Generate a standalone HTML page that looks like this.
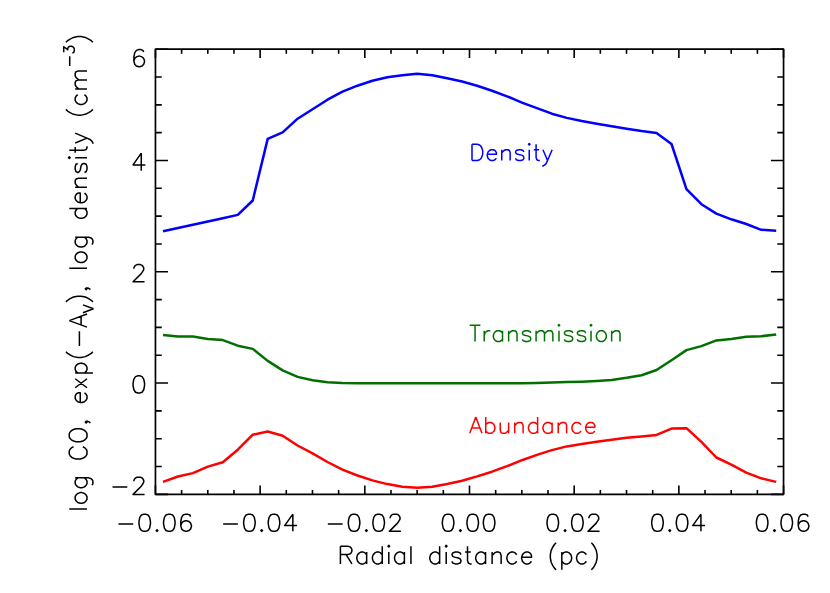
<!DOCTYPE html>
<html><head><meta charset="utf-8"><title>plot</title>
<style>html,body{margin:0;padding:0;background:#fff;font-family:"Liberation Sans",sans-serif;}svg{display:block}</style>
</head><body>
<svg width="830" height="593" viewBox="0 0 830 593">
<rect x="0" y="0" width="830" height="593" fill="#fff"/>
<rect x="155.45" y="49.2" width="628.1" height="445.15" fill="none" stroke="#000" stroke-width="1.7" stroke-linejoin="round"/>
<path d="M155.45 494.35 v-8.9 M155.45 49.2 v8.9 M181.62 494.35 v-4.45 M181.62 49.2 v4.45 M207.79 494.35 v-4.45 M207.79 49.2 v4.45 M233.96 494.35 v-4.45 M233.96 49.2 v4.45 M260.13 494.35 v-8.9 M260.13 49.2 v8.9 M286.3 494.35 v-4.45 M286.3 49.2 v4.45 M312.47 494.35 v-4.45 M312.47 49.2 v4.45 M338.65 494.35 v-4.45 M338.65 49.2 v4.45 M364.82 494.35 v-8.9 M364.82 49.2 v8.9 M390.99 494.35 v-4.45 M390.99 49.2 v4.45 M417.16 494.35 v-4.45 M417.16 49.2 v4.45 M443.33 494.35 v-4.45 M443.33 49.2 v4.45 M469.5 494.35 v-8.9 M469.5 49.2 v8.9 M495.67 494.35 v-4.45 M495.67 49.2 v4.45 M521.84 494.35 v-4.45 M521.84 49.2 v4.45 M548.01 494.35 v-4.45 M548.01 49.2 v4.45 M574.18 494.35 v-8.9 M574.18 49.2 v8.9 M600.35 494.35 v-4.45 M600.35 49.2 v4.45 M626.52 494.35 v-4.45 M626.52 49.2 v4.45 M652.7 494.35 v-4.45 M652.7 49.2 v4.45 M678.87 494.35 v-8.9 M678.87 49.2 v8.9 M705.04 494.35 v-4.45 M705.04 49.2 v4.45 M731.21 494.35 v-4.45 M731.21 49.2 v4.45 M757.38 494.35 v-4.45 M757.38 49.2 v4.45 M783.55 494.35 v-8.9 M783.55 49.2 v8.9 M155.45 49.2 h12.6 M783.55 49.2 h-12.6 M155.45 77.02 h6.3 M783.55 77.02 h-6.3 M155.45 104.84 h6.3 M783.55 104.84 h-6.3 M155.45 132.67 h6.3 M783.55 132.67 h-6.3 M155.45 160.49 h12.6 M783.55 160.49 h-12.6 M155.45 188.31 h6.3 M783.55 188.31 h-6.3 M155.45 216.13 h6.3 M783.55 216.13 h-6.3 M155.45 243.95 h6.3 M783.55 243.95 h-6.3 M155.45 271.78 h12.6 M783.55 271.78 h-12.6 M155.45 299.6 h6.3 M783.55 299.6 h-6.3 M155.45 327.42 h6.3 M783.55 327.42 h-6.3 M155.45 355.24 h6.3 M783.55 355.24 h-6.3 M155.45 383.06 h12.6 M783.55 383.06 h-12.6 M155.45 410.88 h6.3 M783.55 410.88 h-6.3 M155.45 438.71 h6.3 M783.55 438.71 h-6.3 M155.45 466.53 h6.3 M783.55 466.53 h-6.3 M155.45 494.35 h12.6 M783.55 494.35 h-12.6" fill="none" stroke="#000" stroke-width="1.6" stroke-linecap="butt"/>
<polyline points="163,231.3 177.96,228 192.91,224.7 207.87,221.5 222.82,218.2 237.78,214.9 252.74,200.5 267.69,138.9 282.65,132.3 297.6,118.7 312.56,109.3 327.52,99.7 342.47,91.6 357.43,85.7 372.38,80.8 387.34,77.3 402.3,75.15 417.25,73.7 432.21,75.2 447.16,78.3 462.12,81.5 477.08,85.7 492.03,90.75 506.99,96.3 521.94,102.6 536.9,108.15 551.86,113.7 566.81,117.9 581.77,121 596.72,123.7 611.68,126.2 626.64,128.7 641.59,131.1 656.55,133.1 671.5,144 686.46,189.2 701.42,204.2 716.37,213.6 731.33,219.3 746.28,224 761.24,229.8 776.2,230.7" fill="none" stroke="#0000ff" stroke-width="2.5" stroke-linejoin="round" stroke-linecap="butt"/>
<polyline points="163,334.9 177.96,336.4 192.91,336.6 207.87,338.9 222.82,340.1 237.78,345.7 252.74,348.9 267.69,360.9 282.65,370.4 297.6,376.9 312.56,380.25 327.52,382.3 342.47,383 357.43,383.2 372.38,383.2 387.34,383.2 402.3,383.2 417.25,383.2 432.21,383.2 447.16,383.2 462.12,383.2 477.08,383.2 492.03,383.2 506.99,383.2 521.94,383.15 536.9,383 551.86,382.55 566.81,382.1 581.77,381.7 596.72,381 611.68,380 626.64,377.8 641.59,375.2 656.55,370 671.5,360.2 686.46,350.1 701.42,346.1 716.37,340.4 731.33,338.9 746.28,336.7 761.24,336.2 776.2,334.6" fill="none" stroke="#007000" stroke-width="2.5" stroke-linejoin="round" stroke-linecap="butt"/>
<polyline points="163,481.9 177.96,476.5 192.91,473.1 207.87,466.6 222.82,462.3 237.78,449.7 252.74,434.7 267.69,431.5 282.65,435.7 297.6,445.5 312.56,453.4 327.52,462 342.47,469.6 357.43,475.5 372.38,480.4 387.34,484.1 402.3,486.75 417.25,487.7 432.21,486.7 447.16,484 462.12,480.7 477.08,476.4 492.03,471.7 506.99,466.2 521.94,460.2 536.9,454.9 551.86,450.1 566.81,446.4 581.77,443.9 596.72,441.7 611.68,439.7 626.64,437.8 641.59,436.45 656.55,434.95 671.5,428.6 686.46,428.2 701.42,441.9 716.37,457.5 731.33,464.7 746.28,472.7 761.24,478.3 776.2,481.9" fill="none" stroke="#ff0000" stroke-width="2.5" stroke-linejoin="round" stroke-linecap="butt"/>
<path transform="translate(154.55 531.35)" d="M-36.08 -7.38 L-21.32 -7.38M-10.66 -17.22 L-13.12 -16.4 L-14.76 -13.94 L-15.58 -9.84 L-15.58 -7.38 L-14.76 -3.28 L-13.12 -0.82 L-10.66 0 L-9.02 0 L-6.56 -0.82 L-4.92 -3.28 L-4.1 -7.38 L-4.1 -9.84 L-4.92 -13.94 L-6.56 -16.4 L-9.02 -17.22ZM2.46 -1.64 L1.64 -0.82 L2.46 0 L3.28 -0.82ZM13.94 -17.22 L11.48 -16.4 L9.84 -13.94 L9.02 -9.84 L9.02 -7.38 L9.84 -3.28 L11.48 -0.82 L13.94 0 L15.58 0 L18.04 -0.82 L19.68 -3.28 L20.5 -7.38 L20.5 -9.84 L19.68 -13.94 L18.04 -16.4 L15.58 -17.22ZM36.08 -14.76 L35.26 -16.4 L32.8 -17.22 L31.16 -17.22 L28.7 -16.4 L27.06 -13.94 L26.24 -9.84 L26.24 -5.74 L27.06 -2.46 L28.7 -0.82 L31.16 0 L31.98 0 L34.44 -0.82 L36.08 -2.46 L36.9 -4.92 L36.9 -5.74 L36.08 -8.2 L34.44 -9.84 L31.98 -10.66 L31.16 -10.66 L28.7 -9.84 L27.06 -8.2 L26.24 -5.74" fill="none" stroke="#000" stroke-width="1.5" stroke-linecap="butt" stroke-linejoin="round"/>
<path transform="translate(259.23 531.35)" d="M-36.08 -7.38 L-21.32 -7.38M-10.66 -17.22 L-13.12 -16.4 L-14.76 -13.94 L-15.58 -9.84 L-15.58 -7.38 L-14.76 -3.28 L-13.12 -0.82 L-10.66 0 L-9.02 0 L-6.56 -0.82 L-4.92 -3.28 L-4.1 -7.38 L-4.1 -9.84 L-4.92 -13.94 L-6.56 -16.4 L-9.02 -17.22ZM2.46 -1.64 L1.64 -0.82 L2.46 0 L3.28 -0.82ZM13.94 -17.22 L11.48 -16.4 L9.84 -13.94 L9.02 -9.84 L9.02 -7.38 L9.84 -3.28 L11.48 -0.82 L13.94 0 L15.58 0 L18.04 -0.82 L19.68 -3.28 L20.5 -7.38 L20.5 -9.84 L19.68 -13.94 L18.04 -16.4 L15.58 -17.22ZM33.62 -17.22 L25.42 -5.74 L37.72 -5.74M33.62 -17.22 L33.62 0" fill="none" stroke="#000" stroke-width="1.5" stroke-linecap="butt" stroke-linejoin="round"/>
<path transform="translate(363.92 531.35)" d="M-36.08 -7.38 L-21.32 -7.38M-10.66 -17.22 L-13.12 -16.4 L-14.76 -13.94 L-15.58 -9.84 L-15.58 -7.38 L-14.76 -3.28 L-13.12 -0.82 L-10.66 0 L-9.02 0 L-6.56 -0.82 L-4.92 -3.28 L-4.1 -7.38 L-4.1 -9.84 L-4.92 -13.94 L-6.56 -16.4 L-9.02 -17.22ZM2.46 -1.64 L1.64 -0.82 L2.46 0 L3.28 -0.82ZM13.94 -17.22 L11.48 -16.4 L9.84 -13.94 L9.02 -9.84 L9.02 -7.38 L9.84 -3.28 L11.48 -0.82 L13.94 0 L15.58 0 L18.04 -0.82 L19.68 -3.28 L20.5 -7.38 L20.5 -9.84 L19.68 -13.94 L18.04 -16.4 L15.58 -17.22ZM26.24 -13.12 L26.24 -13.94 L27.06 -15.58 L27.88 -16.4 L29.52 -17.22 L32.8 -17.22 L34.44 -16.4 L35.26 -15.58 L36.08 -13.94 L36.08 -12.3 L35.26 -10.66 L33.62 -8.2 L25.42 0 L36.9 0" fill="none" stroke="#000" stroke-width="1.5" stroke-linecap="butt" stroke-linejoin="round"/>
<path transform="translate(468.6 531.35)" d="M-21.32 -17.22 L-23.78 -16.4 L-25.42 -13.94 L-26.24 -9.84 L-26.24 -7.38 L-25.42 -3.28 L-23.78 -0.82 L-21.32 0 L-19.68 0 L-17.22 -0.82 L-15.58 -3.28 L-14.76 -7.38 L-14.76 -9.84 L-15.58 -13.94 L-17.22 -16.4 L-19.68 -17.22ZM-8.2 -1.64 L-9.02 -0.82 L-8.2 0 L-7.38 -0.82ZM3.28 -17.22 L0.82 -16.4 L-0.82 -13.94 L-1.64 -9.84 L-1.64 -7.38 L-0.82 -3.28 L0.82 -0.82 L3.28 0 L4.92 0 L7.38 -0.82 L9.02 -3.28 L9.84 -7.38 L9.84 -9.84 L9.02 -13.94 L7.38 -16.4 L4.92 -17.22ZM19.68 -17.22 L17.22 -16.4 L15.58 -13.94 L14.76 -9.84 L14.76 -7.38 L15.58 -3.28 L17.22 -0.82 L19.68 0 L21.32 0 L23.78 -0.82 L25.42 -3.28 L26.24 -7.38 L26.24 -9.84 L25.42 -13.94 L23.78 -16.4 L21.32 -17.22Z" fill="none" stroke="#000" stroke-width="1.5" stroke-linecap="butt" stroke-linejoin="round"/>
<path transform="translate(573.28 531.35)" d="M-21.32 -17.22 L-23.78 -16.4 L-25.42 -13.94 L-26.24 -9.84 L-26.24 -7.38 L-25.42 -3.28 L-23.78 -0.82 L-21.32 0 L-19.68 0 L-17.22 -0.82 L-15.58 -3.28 L-14.76 -7.38 L-14.76 -9.84 L-15.58 -13.94 L-17.22 -16.4 L-19.68 -17.22ZM-8.2 -1.64 L-9.02 -0.82 L-8.2 0 L-7.38 -0.82ZM3.28 -17.22 L0.82 -16.4 L-0.82 -13.94 L-1.64 -9.84 L-1.64 -7.38 L-0.82 -3.28 L0.82 -0.82 L3.28 0 L4.92 0 L7.38 -0.82 L9.02 -3.28 L9.84 -7.38 L9.84 -9.84 L9.02 -13.94 L7.38 -16.4 L4.92 -17.22ZM15.58 -13.12 L15.58 -13.94 L16.4 -15.58 L17.22 -16.4 L18.86 -17.22 L22.14 -17.22 L23.78 -16.4 L24.6 -15.58 L25.42 -13.94 L25.42 -12.3 L24.6 -10.66 L22.96 -8.2 L14.76 0 L26.24 0" fill="none" stroke="#000" stroke-width="1.5" stroke-linecap="butt" stroke-linejoin="round"/>
<path transform="translate(677.97 531.35)" d="M-21.32 -17.22 L-23.78 -16.4 L-25.42 -13.94 L-26.24 -9.84 L-26.24 -7.38 L-25.42 -3.28 L-23.78 -0.82 L-21.32 0 L-19.68 0 L-17.22 -0.82 L-15.58 -3.28 L-14.76 -7.38 L-14.76 -9.84 L-15.58 -13.94 L-17.22 -16.4 L-19.68 -17.22ZM-8.2 -1.64 L-9.02 -0.82 L-8.2 0 L-7.38 -0.82ZM3.28 -17.22 L0.82 -16.4 L-0.82 -13.94 L-1.64 -9.84 L-1.64 -7.38 L-0.82 -3.28 L0.82 -0.82 L3.28 0 L4.92 0 L7.38 -0.82 L9.02 -3.28 L9.84 -7.38 L9.84 -9.84 L9.02 -13.94 L7.38 -16.4 L4.92 -17.22ZM22.96 -17.22 L14.76 -5.74 L27.06 -5.74M22.96 -17.22 L22.96 0" fill="none" stroke="#000" stroke-width="1.5" stroke-linecap="butt" stroke-linejoin="round"/>
<path transform="translate(782.65 531.35)" d="M-21.32 -17.22 L-23.78 -16.4 L-25.42 -13.94 L-26.24 -9.84 L-26.24 -7.38 L-25.42 -3.28 L-23.78 -0.82 L-21.32 0 L-19.68 0 L-17.22 -0.82 L-15.58 -3.28 L-14.76 -7.38 L-14.76 -9.84 L-15.58 -13.94 L-17.22 -16.4 L-19.68 -17.22ZM-8.2 -1.64 L-9.02 -0.82 L-8.2 0 L-7.38 -0.82ZM3.28 -17.22 L0.82 -16.4 L-0.82 -13.94 L-1.64 -9.84 L-1.64 -7.38 L-0.82 -3.28 L0.82 -0.82 L3.28 0 L4.92 0 L7.38 -0.82 L9.02 -3.28 L9.84 -7.38 L9.84 -9.84 L9.02 -13.94 L7.38 -16.4 L4.92 -17.22ZM25.42 -14.76 L24.6 -16.4 L22.14 -17.22 L20.5 -17.22 L18.04 -16.4 L16.4 -13.94 L15.58 -9.84 L15.58 -5.74 L16.4 -2.46 L18.04 -0.82 L20.5 0 L21.32 0 L23.78 -0.82 L25.42 -2.46 L26.24 -4.92 L26.24 -5.74 L25.42 -8.2 L23.78 -9.84 L21.32 -10.66 L20.5 -10.66 L18.04 -9.84 L16.4 -8.2 L15.58 -5.74" fill="none" stroke="#000" stroke-width="1.5" stroke-linecap="butt" stroke-linejoin="round"/>
<path transform="translate(147 66.75)" d="M-3.28 -14.76 L-4.1 -16.4 L-6.56 -17.22 L-8.2 -17.22 L-10.66 -16.4 L-12.3 -13.94 L-13.12 -9.84 L-13.12 -5.74 L-12.3 -2.46 L-10.66 -0.82 L-8.2 0 L-7.38 0 L-4.92 -0.82 L-3.28 -2.46 L-2.46 -4.92 L-2.46 -5.74 L-3.28 -8.2 L-4.92 -9.84 L-7.38 -10.66 L-8.2 -10.66 L-10.66 -9.84 L-12.3 -8.2 L-13.12 -5.74" fill="none" stroke="#000" stroke-width="1.5" stroke-linecap="butt" stroke-linejoin="round"/>
<path transform="translate(147 170.8)" d="M-5.74 -17.74 L-13.94 -5.91 L-1.64 -5.91M-5.74 -17.74 L-5.74 0" fill="none" stroke="#000" stroke-width="1.5" stroke-linecap="butt" stroke-linejoin="round"/>
<path transform="translate(147 281.8)" d="M-13.12 -13.12 L-13.12 -13.94 L-12.3 -15.58 L-11.48 -16.4 L-9.84 -17.22 L-6.56 -17.22 L-4.92 -16.4 L-4.1 -15.58 L-3.28 -13.94 L-3.28 -12.3 L-4.1 -10.66 L-5.74 -8.2 L-13.94 0 L-2.46 0" fill="none" stroke="#000" stroke-width="1.5" stroke-linecap="butt" stroke-linejoin="round"/>
<path transform="translate(147 393.05)" d="M-9.02 -17.22 L-11.48 -16.4 L-13.12 -13.94 L-13.94 -9.84 L-13.94 -7.38 L-13.12 -3.28 L-11.48 -0.82 L-9.02 0 L-7.38 0 L-4.92 -0.82 L-3.28 -3.28 L-2.46 -7.38 L-2.46 -9.84 L-3.28 -13.94 L-4.92 -16.4 L-7.38 -17.22Z" fill="none" stroke="#000" stroke-width="1.5" stroke-linecap="butt" stroke-linejoin="round"/>
<path transform="translate(147 494.4)" d="M-34.44 -7.38 L-19.68 -7.38M-13.12 -13.12 L-13.12 -13.94 L-12.3 -15.58 L-11.48 -16.4 L-9.84 -17.22 L-6.56 -17.22 L-4.92 -16.4 L-4.1 -15.58 L-3.28 -13.94 L-3.28 -12.3 L-4.1 -10.66 L-5.74 -8.2 L-13.94 0 L-2.46 0" fill="none" stroke="#000" stroke-width="1.5" stroke-linecap="butt" stroke-linejoin="round"/>
<path transform="translate(468.75 563.9)" d="M-128.33 -17.74 L-128.33 0M-128.33 -17.74 L-120.95 -17.74 L-118.49 -16.89 L-117.67 -16.05 L-116.85 -14.36 L-116.85 -12.67 L-117.67 -10.98 L-118.49 -10.14 L-120.95 -9.29 L-128.33 -9.29M-122.59 -9.29 L-116.85 0M-102.09 -11.82 L-102.09 0M-102.09 -9.29 L-103.73 -10.98 L-105.37 -11.82 L-107.83 -11.82 L-109.47 -10.98 L-111.11 -9.29 L-111.93 -6.76 L-111.93 -5.07 L-111.11 -2.53 L-109.47 -0.84 L-107.83 0 L-105.37 0 L-103.73 -0.84 L-102.09 -2.53M-86.51 -17.74 L-86.51 0M-86.51 -9.29 L-88.15 -10.98 L-89.79 -11.82 L-92.25 -11.82 L-93.89 -10.98 L-95.53 -9.29 L-96.35 -6.76 L-96.35 -5.07 L-95.53 -2.53 L-93.89 -0.84 L-92.25 0 L-89.79 0 L-88.15 -0.84 L-86.51 -2.53M-80.77 -17.74 L-79.95 -16.89 L-79.13 -17.74 L-79.95 -18.58ZM-79.95 -11.82 L-79.95 0M-64.37 -11.82 L-64.37 0M-64.37 -9.29 L-66.01 -10.98 L-67.65 -11.82 L-70.11 -11.82 L-71.75 -10.98 L-73.39 -9.29 L-74.21 -6.76 L-74.21 -5.07 L-73.39 -2.53 L-71.75 -0.84 L-70.11 0 L-67.65 0 L-66.01 -0.84 L-64.37 -2.53M-57.81 -17.74 L-57.81 0M-29.11 -17.74 L-29.11 0M-29.11 -9.29 L-30.75 -10.98 L-32.39 -11.82 L-34.85 -11.82 L-36.49 -10.98 L-38.13 -9.29 L-38.95 -6.76 L-38.95 -5.07 L-38.13 -2.53 L-36.49 -0.84 L-34.85 0 L-32.39 0 L-30.75 -0.84 L-29.11 -2.53M-23.37 -17.74 L-22.55 -16.89 L-21.73 -17.74 L-22.55 -18.58ZM-22.55 -11.82 L-22.55 0M-7.79 -9.29 L-8.61 -10.98 L-11.07 -11.82 L-13.53 -11.82 L-15.99 -10.98 L-16.81 -9.29 L-15.99 -7.6 L-14.35 -6.76 L-10.25 -5.91 L-8.61 -5.07 L-7.79 -3.38 L-7.79 -2.53 L-8.61 -0.84 L-11.07 0 L-13.53 0 L-15.99 -0.84 L-16.81 -2.53M-1.23 -17.74 L-1.23 -3.38 L-0.41 -0.84 L1.23 0 L2.87 0M-3.69 -11.82 L2.05 -11.82M16.81 -11.82 L16.81 0M16.81 -9.29 L15.17 -10.98 L13.53 -11.82 L11.07 -11.82 L9.43 -10.98 L7.79 -9.29 L6.97 -6.76 L6.97 -5.07 L7.79 -2.53 L9.43 -0.84 L11.07 0 L13.53 0 L15.17 -0.84 L16.81 -2.53M23.37 -11.82 L23.37 0M23.37 -8.45 L25.83 -10.98 L27.47 -11.82 L29.93 -11.82 L31.57 -10.98 L32.39 -8.45 L32.39 0M47.97 -9.29 L46.33 -10.98 L44.69 -11.82 L42.23 -11.82 L40.59 -10.98 L38.95 -9.29 L38.13 -6.76 L38.13 -5.07 L38.95 -2.53 L40.59 -0.84 L42.23 0 L44.69 0 L46.33 -0.84 L47.97 -2.53M52.89 -6.76 L62.73 -6.76 L62.73 -8.45 L61.91 -10.14 L61.09 -10.98 L59.45 -11.82 L56.99 -11.82 L55.35 -10.98 L53.71 -9.29 L52.89 -6.76 L52.89 -5.07 L53.71 -2.53 L55.35 -0.84 L56.99 0 L59.45 0 L61.09 -0.84 L62.73 -2.53M87.33 -21.12 L85.69 -19.43 L84.05 -16.89 L82.41 -13.51 L81.59 -9.29 L81.59 -5.91 L82.41 -1.69 L84.05 1.69 L85.69 4.22 L87.33 5.91M93.07 -11.82 L93.07 5.91M93.07 -9.29 L94.71 -10.98 L96.35 -11.82 L98.81 -11.82 L100.45 -10.98 L102.09 -9.29 L102.91 -6.76 L102.91 -5.07 L102.09 -2.53 L100.45 -0.84 L98.81 0 L96.35 0 L94.71 -0.84 L93.07 -2.53M117.67 -9.29 L116.03 -10.98 L114.39 -11.82 L111.93 -11.82 L110.29 -10.98 L108.65 -9.29 L107.83 -6.76 L107.83 -5.07 L108.65 -2.53 L110.29 -0.84 L111.93 0 L114.39 0 L116.03 -0.84 L117.67 -2.53M122.59 -21.12 L124.23 -19.43 L125.87 -16.89 L127.51 -13.51 L128.33 -9.29 L128.33 -5.91 L127.51 -1.69 L125.87 1.69 L124.23 4.22 L122.59 5.91" fill="none" stroke="#000" stroke-width="1.5" stroke-linecap="butt" stroke-linejoin="round"/>
<path transform="translate(87 272.8) rotate(-90)" d="M-236.2 -17.72 L-236.2 0M-226.37 -11.81 L-228.01 -10.97 L-229.65 -9.28 L-230.47 -6.75 L-230.47 -5.06 L-229.65 -2.53 L-228.01 -0.84 L-226.37 0 L-223.91 0 L-222.27 -0.84 L-220.64 -2.53 L-219.82 -5.06 L-219.82 -6.75 L-220.64 -9.28 L-222.27 -10.97 L-223.91 -11.81ZM-205.07 -11.81 L-205.07 1.69 L-205.89 4.22 L-206.71 5.06 L-208.35 5.91 L-210.8 5.91 L-212.44 5.06M-205.07 -9.28 L-206.71 -10.97 L-208.35 -11.81 L-210.8 -11.81 L-212.44 -10.97 L-214.08 -9.28 L-214.9 -6.75 L-214.9 -5.06 L-214.08 -2.53 L-212.44 -0.84 L-210.8 0 L-208.35 0 L-206.71 -0.84 L-205.07 -2.53M-173.94 -13.5 L-174.76 -15.19 L-176.4 -16.88 L-178.04 -17.72 L-181.31 -17.72 L-182.95 -16.88 L-184.59 -15.19 L-185.41 -13.5 L-186.23 -10.97 L-186.23 -6.75 L-185.41 -4.22 L-184.59 -2.53 L-182.95 -0.84 L-181.31 0 L-178.04 0 L-176.4 -0.84 L-174.76 -2.53 L-173.94 -4.22M-164.11 -17.72 L-165.75 -16.88 L-167.39 -15.19 L-168.21 -13.5 L-169.03 -10.97 L-169.03 -6.75 L-168.21 -4.22 L-167.39 -2.53 L-165.75 -0.84 L-164.11 0 L-160.83 0 L-159.2 -0.84 L-157.56 -2.53 L-156.74 -4.22 L-155.92 -6.75 L-155.92 -10.97 L-156.74 -13.5 L-157.56 -15.19 L-159.2 -16.88 L-160.83 -17.72ZM-148.55 -0.84 L-149.36 0 L-150.18 -0.84 L-149.36 -1.69 L-148.55 -0.84 L-148.55 0.84 L-149.36 2.53 L-150.18 3.38M-129.7 -6.75 L-119.87 -6.75 L-119.87 -8.44 L-120.69 -10.13 L-121.51 -10.97 L-123.15 -11.81 L-125.61 -11.81 L-127.25 -10.97 L-128.88 -9.28 L-129.7 -6.75 L-129.7 -5.06 L-128.88 -2.53 L-127.25 -0.84 L-125.61 0 L-123.15 0 L-121.51 -0.84 L-119.87 -2.53M-114.96 -11.81 L-105.95 0M-105.95 -11.81 L-114.96 0M-100.21 -11.81 L-100.21 5.91M-100.21 -9.28 L-98.57 -10.97 L-96.94 -11.81 L-94.48 -11.81 L-92.84 -10.97 L-91.2 -9.28 L-90.38 -6.75 L-90.38 -5.06 L-91.2 -2.53 L-92.84 -0.84 L-94.48 0 L-96.94 0 L-98.57 -0.84 L-100.21 -2.53M-78.91 -21.09 L-80.55 -19.41 L-82.19 -16.88 L-83.83 -13.5 L-84.65 -9.28 L-84.65 -5.91 L-83.83 -1.69 L-82.19 1.69 L-80.55 4.22 L-78.91 5.91M-73.18 -7.59 L-58.43 -7.59M-47.78 -17.72 L-54.34 0M-47.78 -17.72 L-41.23 0M-51.88 -5.91 L-43.69 -5.91M-39.92 -4.09 L-35.99 6.54M-32.06 -4.09 L-35.99 6.54M-29.11 -21.09 L-27.47 -19.41 L-25.83 -16.88 L-24.19 -13.5 L-23.37 -9.28 L-23.37 -5.91 L-24.19 -1.69 L-25.83 1.69 L-27.47 4.22 L-29.11 5.91M-15.18 -0.84 L-16 0 L-16.82 -0.84 L-16 -1.69 L-15.18 -0.84 L-15.18 0.84 L-16 2.53 L-16.82 3.38M4.48 -17.72 L4.48 0M14.31 -11.81 L12.67 -10.97 L11.03 -9.28 L10.22 -6.75 L10.22 -5.06 L11.03 -2.53 L12.67 -0.84 L14.31 0 L16.77 0 L18.41 -0.84 L20.05 -2.53 L20.87 -5.06 L20.87 -6.75 L20.05 -9.28 L18.41 -10.97 L16.77 -11.81ZM35.61 -11.81 L35.61 1.69 L34.79 4.22 L33.97 5.06 L32.33 5.91 L29.88 5.91 L28.24 5.06M35.61 -9.28 L33.97 -10.97 L32.33 -11.81 L29.88 -11.81 L28.24 -10.97 L26.6 -9.28 L25.78 -6.75 L25.78 -5.06 L26.6 -2.53 L28.24 -0.84 L29.88 0 L32.33 0 L33.97 -0.84 L35.61 -2.53M64.28 -17.72 L64.28 0M64.28 -9.28 L62.64 -10.97 L61.01 -11.81 L58.55 -11.81 L56.91 -10.97 L55.27 -9.28 L54.45 -6.75 L54.45 -5.06 L55.27 -2.53 L56.91 -0.84 L58.55 0 L61.01 0 L62.64 -0.84 L64.28 -2.53M70.02 -6.75 L79.85 -6.75 L79.85 -8.44 L79.03 -10.13 L78.21 -10.97 L76.57 -11.81 L74.11 -11.81 L72.47 -10.97 L70.84 -9.28 L70.02 -6.75 L70.02 -5.06 L70.84 -2.53 L72.47 -0.84 L74.11 0 L76.57 0 L78.21 -0.84 L79.85 -2.53M85.58 -11.81 L85.58 0M85.58 -8.44 L88.04 -10.97 L89.68 -11.81 L92.14 -11.81 L93.77 -10.97 L94.59 -8.44 L94.59 0M109.34 -9.28 L108.52 -10.97 L106.06 -11.81 L103.6 -11.81 L101.15 -10.97 L100.33 -9.28 L101.15 -7.59 L102.79 -6.75 L106.88 -5.91 L108.52 -5.06 L109.34 -3.38 L109.34 -2.53 L108.52 -0.84 L106.06 0 L103.6 0 L101.15 -0.84 L100.33 -2.53M114.25 -17.72 L115.07 -16.88 L115.89 -17.72 L115.07 -18.56ZM115.07 -11.81 L115.07 0M122.45 -17.72 L122.45 -3.38 L123.27 -0.84 L124.9 0 L126.54 0M119.99 -11.81 L125.72 -11.81M129.82 -11.81 L134.73 0M139.65 -11.81 L134.73 0 L133.1 3.38 L131.46 5.06 L129.82 5.91 L129 5.91M163.41 -21.09 L161.77 -19.41 L160.13 -16.88 L158.49 -13.5 L157.67 -9.28 L157.67 -5.91 L158.49 -1.69 L160.13 1.69 L161.77 4.22 L163.41 5.91M178.15 -9.28 L176.51 -10.97 L174.87 -11.81 L172.42 -11.81 L170.78 -10.97 L169.14 -9.28 L168.32 -6.75 L168.32 -5.06 L169.14 -2.53 L170.78 -0.84 L172.42 0 L174.87 0 L176.51 -0.84 L178.15 -2.53M183.89 -11.81 L183.89 0M183.89 -8.44 L186.34 -10.97 L187.98 -11.81 L190.44 -11.81 L192.08 -10.97 L192.9 -8.44 L192.9 0M192.9 -8.44 L195.35 -10.97 L196.99 -11.81 L199.45 -11.81 L201.09 -10.97 L201.91 -8.44 L201.91 0M206.74 -17.29 L216.62 -17.29M220.64 -23.29 L226.04 -23.29 L223.09 -19.24 L224.57 -19.24 L225.55 -18.73 L226.04 -18.23 L226.53 -16.71 L226.53 -15.69 L226.04 -14.18 L225.06 -13.16 L223.58 -12.66 L222.11 -12.66 L220.64 -13.16 L220.14 -13.67 L219.65 -14.68M230.47 -21.09 L232.1 -19.41 L233.74 -16.88 L235.38 -13.5 L236.2 -9.28 L236.2 -5.91 L235.38 -1.69 L233.74 1.69 L232.1 4.22 L230.47 5.91" fill="none" stroke="#000" stroke-width="1.5" stroke-linecap="butt" stroke-linejoin="round"/>
<path transform="translate(468.95 160.55)" d="M3.05 -16.25 L3.05 0M3.05 -16.25 L8.39 -16.25 L10.68 -15.47 L12.21 -13.93 L12.97 -12.38 L13.73 -10.06 L13.73 -6.19 L12.97 -3.87 L12.21 -2.32 L10.68 -0.77 L8.39 0 L3.05 0M18.31 -6.19 L27.47 -6.19 L27.47 -7.74 L26.71 -9.28 L25.94 -10.06 L24.42 -10.83 L22.13 -10.83 L20.6 -10.06 L19.07 -8.51 L18.31 -6.19 L18.31 -4.64 L19.07 -2.32 L20.6 -0.77 L22.13 0 L24.42 0 L25.94 -0.77 L27.47 -2.32M32.81 -10.83 L32.81 0M32.81 -7.74 L35.1 -10.06 L36.62 -10.83 L38.91 -10.83 L40.44 -10.06 L41.2 -7.74 L41.2 0M54.94 -8.51 L54.17 -10.06 L51.88 -10.83 L49.59 -10.83 L47.31 -10.06 L46.54 -8.51 L47.31 -6.96 L48.83 -6.19 L52.65 -5.42 L54.17 -4.64 L54.94 -3.09 L54.94 -2.32 L54.17 -0.77 L51.88 0 L49.59 0 L47.31 -0.77 L46.54 -2.32M59.51 -16.25 L60.28 -15.47 L61.04 -16.25 L60.28 -17.02ZM60.28 -10.83 L60.28 0M67.14 -16.25 L67.14 -3.09 L67.91 -0.77 L69.43 0 L70.96 0M64.86 -10.83 L70.2 -10.83M74.01 -10.83 L78.59 0M83.17 -10.83 L78.59 0 L77.06 3.09 L75.54 4.64 L74.01 5.42 L73.25 5.42" fill="none" stroke="#0000ff" stroke-width="1.5" stroke-linecap="butt" stroke-linejoin="round"/>
<path transform="translate(468.95 341.55)" d="M6.1 -16.25 L6.1 0M0.76 -16.25 L11.45 -16.25M15.26 -10.83 L15.26 0M15.26 -6.19 L16.02 -8.51 L17.55 -10.06 L19.07 -10.83 L21.36 -10.83M33.57 -10.83 L33.57 0M33.57 -8.51 L32.05 -10.06 L30.52 -10.83 L28.23 -10.83 L26.71 -10.06 L25.18 -8.51 L24.42 -6.19 L24.42 -4.64 L25.18 -2.32 L26.71 -0.77 L28.23 0 L30.52 0 L32.05 -0.77 L33.57 -2.32M39.68 -10.83 L39.68 0M39.68 -7.74 L41.97 -10.06 L43.49 -10.83 L45.78 -10.83 L47.31 -10.06 L48.07 -7.74 L48.07 0M61.8 -8.51 L61.04 -10.06 L58.75 -10.83 L56.46 -10.83 L54.17 -10.06 L53.41 -8.51 L54.17 -6.96 L55.7 -6.19 L59.51 -5.42 L61.04 -4.64 L61.8 -3.09 L61.8 -2.32 L61.04 -0.77 L58.75 0 L56.46 0 L54.17 -0.77 L53.41 -2.32M67.14 -10.83 L67.14 0M67.14 -7.74 L69.43 -10.06 L70.96 -10.83 L73.25 -10.83 L74.77 -10.06 L75.54 -7.74 L75.54 0M75.54 -7.74 L77.83 -10.06 L79.35 -10.83 L81.64 -10.83 L83.17 -10.06 L83.93 -7.74 L83.93 0M89.27 -16.25 L90.03 -15.47 L90.8 -16.25 L90.03 -17.02ZM90.03 -10.83 L90.03 0M103.77 -8.51 L103 -10.06 L100.72 -10.83 L98.43 -10.83 L96.14 -10.06 L95.38 -8.51 L96.14 -6.96 L97.66 -6.19 L101.48 -5.42 L103 -4.64 L103.77 -3.09 L103.77 -2.32 L103 -0.77 L100.72 0 L98.43 0 L96.14 -0.77 L95.38 -2.32M116.74 -8.51 L115.98 -10.06 L113.69 -10.83 L111.4 -10.83 L109.11 -10.06 L108.35 -8.51 L109.11 -6.96 L110.64 -6.19 L114.45 -5.42 L115.98 -4.64 L116.74 -3.09 L116.74 -2.32 L115.98 -0.77 L113.69 0 L111.4 0 L109.11 -0.77 L108.35 -2.32M121.32 -16.25 L122.08 -15.47 L122.84 -16.25 L122.08 -17.02ZM122.08 -10.83 L122.08 0M131.24 -10.83 L129.71 -10.06 L128.18 -8.51 L127.42 -6.19 L127.42 -4.64 L128.18 -2.32 L129.71 -0.77 L131.24 0 L133.53 0 L135.05 -0.77 L136.58 -2.32 L137.34 -4.64 L137.34 -6.19 L136.58 -8.51 L135.05 -10.06 L133.53 -10.83ZM142.68 -10.83 L142.68 0M142.68 -7.74 L144.97 -10.06 L146.5 -10.83 L148.78 -10.83 L150.31 -10.06 L151.07 -7.74 L151.07 0" fill="none" stroke="#007000" stroke-width="1.5" stroke-linecap="butt" stroke-linejoin="round"/>
<path transform="translate(468.95 433.35)" d="M6.87 -16.25 L0.76 0M6.87 -16.25 L12.97 0M3.05 -5.42 L10.68 -5.42M16.79 -16.25 L16.79 0M16.79 -8.51 L18.31 -10.06 L19.84 -10.83 L22.13 -10.83 L23.65 -10.06 L25.18 -8.51 L25.94 -6.19 L25.94 -4.64 L25.18 -2.32 L23.65 -0.77 L22.13 0 L19.84 0 L18.31 -0.77 L16.79 -2.32M31.28 -10.83 L31.28 -3.09 L32.05 -0.77 L33.57 0 L35.86 0 L37.39 -0.77 L39.68 -3.09M39.68 -10.83 L39.68 0M45.78 -10.83 L45.78 0M45.78 -7.74 L48.07 -10.06 L49.59 -10.83 L51.88 -10.83 L53.41 -10.06 L54.17 -7.74 L54.17 0M68.67 -16.25 L68.67 0M68.67 -8.51 L67.14 -10.06 L65.62 -10.83 L63.33 -10.83 L61.8 -10.06 L60.28 -8.51 L59.51 -6.19 L59.51 -4.64 L60.28 -2.32 L61.8 -0.77 L63.33 0 L65.62 0 L67.14 -0.77 L68.67 -2.32M83.17 -10.83 L83.17 0M83.17 -8.51 L81.64 -10.06 L80.11 -10.83 L77.83 -10.83 L76.3 -10.06 L74.77 -8.51 L74.01 -6.19 L74.01 -4.64 L74.77 -2.32 L76.3 -0.77 L77.83 0 L80.11 0 L81.64 -0.77 L83.17 -2.32M89.27 -10.83 L89.27 0M89.27 -7.74 L91.56 -10.06 L93.09 -10.83 L95.38 -10.83 L96.9 -10.06 L97.66 -7.74 L97.66 0M112.16 -8.51 L110.64 -10.06 L109.11 -10.83 L106.82 -10.83 L105.29 -10.06 L103.77 -8.51 L103 -6.19 L103 -4.64 L103.77 -2.32 L105.29 -0.77 L106.82 0 L109.11 0 L110.64 -0.77 L112.16 -2.32M116.74 -6.19 L125.89 -6.19 L125.89 -7.74 L125.13 -9.28 L124.37 -10.06 L122.84 -10.83 L120.55 -10.83 L119.03 -10.06 L117.5 -8.51 L116.74 -6.19 L116.74 -4.64 L117.5 -2.32 L119.03 -0.77 L120.55 0 L122.84 0 L124.37 -0.77 L125.89 -2.32" fill="none" stroke="#ff0000" stroke-width="1.5" stroke-linecap="butt" stroke-linejoin="round"/>
</svg>
</body></html>
